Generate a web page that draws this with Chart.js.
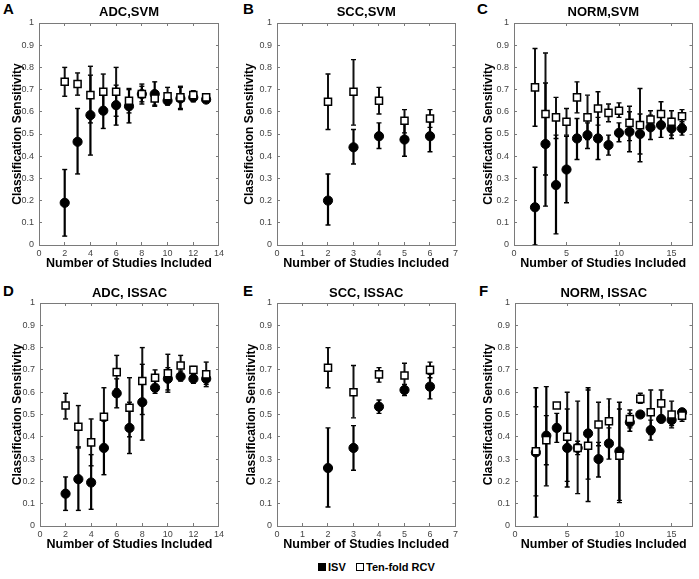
<!DOCTYPE html>
<html><head><meta charset="utf-8">
<script src="https://cdn.jsdelivr.net/npm/chart.js@4.4.0/dist/chart.umd.min.js"></script>
<style>
html,body{margin:0;padding:0;background:#fff;}
body{width:699px;height:579px;position:relative;overflow:hidden;font-family:"Liberation Sans",Arial,sans-serif;}
.panel{position:absolute;}
.letter{position:absolute;font-weight:bold;font-size:15px;line-height:15px;color:#000;}
.lt{position:absolute;font-weight:bold;font-size:11px;line-height:12px;color:#000;white-space:nowrap;}
.sw{position:absolute;box-sizing:border-box;}
</style></head>
<body>
<div class="letter" style="left:3px;top:1px">A</div>
<div class="letter" style="left:243px;top:1px">B</div>
<div class="letter" style="left:477px;top:1px">C</div>
<div class="letter" style="left:3px;top:283px">D</div>
<div class="letter" style="left:243px;top:283px">E</div>
<div class="letter" style="left:479px;top:283px">F</div>
<div class="sw" style="left:318px;top:563px;width:8px;height:8px;background:#000"></div>
<div class="lt" style="left:328px;top:561px">ISV</div>
<div class="sw" style="left:356px;top:563px;width:8px;height:8px;border:1px solid #000;background:#fff"></div>
<div class="lt" style="left:366px;top:561px">Ten-fold RCV</div>
<script>
const seriesNames = ['ISV', 'Ten-fold RCV'];
const yTickLabels = ['0','0.1','0.2','0.3','0.4','0.5','0.6','0.7','0.8','0.9','1'];
const xAxisTitle = 'Number of Studies Included';
const yAxisTitle = 'Classification Sensitivity';

// A: ADC,SVM
const aStudies = [2,3,4,5,6,7,8,9,10,11,12,13];
const aIsvMean = [0.19,0.465,0.585,0.605,0.63,0.625,0.68,0.68,0.65,0.66,0.665,0.655];
const aIsvLow  = [0.04,0.32,0.405,0.525,0.54,0.55,0.645,0.625,0.635,0.61,0.645,0.645];
const aIsvHigh = [0.34,0.615,0.765,0.685,0.72,0.70,0.715,0.735,0.665,0.71,0.69,0.665];
const aRcvMean = [0.735,0.725,0.675,0.69,0.69,0.65,0.68,0.66,0.67,0.665,0.675,0.665];
const aRcvLow  = [0.67,0.675,0.55,0.61,0.58,0.595,0.635,0.63,0.63,0.615,0.65,0.65];
const aRcvHigh = [0.80,0.775,0.805,0.77,0.80,0.705,0.725,0.69,0.71,0.715,0.695,0.68];

// B: SCC,SVM
const bStudies = [2,3,4,5,6];
const bIsvMean = [0.20,0.44,0.49,0.475,0.49];
const bIsvLow  = [0.09,0.365,0.435,0.40,0.42];
const bIsvHigh = [0.32,0.52,0.55,0.55,0.555];
const bRcvMean = [0.645,0.69,0.65,0.56,0.57];
const bRcvLow  = [0.52,0.54,0.59,0.505,0.53];
const bRcvHigh = [0.77,0.835,0.71,0.61,0.61];

// C: NORM,SVM
const cStudies = [2,3,4,5,6,7,8,9,10,11,12,13,14,15,16];
const cIsvMean = [0.17,0.455,0.27,0.34,0.48,0.495,0.48,0.45,0.505,0.51,0.50,0.53,0.54,0.525,0.525];
const cIsvLow  = [0.0,0.175,0.05,0.19,0.385,0.435,0.385,0.405,0.465,0.42,0.41,0.475,0.485,0.48,0.495];
const cIsvHigh = [0.35,0.73,0.495,0.49,0.57,0.55,0.575,0.495,0.55,0.60,0.59,0.585,0.585,0.57,0.555];
const cRcvMean = [0.71,0.59,0.575,0.555,0.665,0.575,0.615,0.595,0.605,0.55,0.54,0.565,0.59,0.555,0.58];
const cRcvLow  = [0.535,0.315,0.48,0.495,0.595,0.475,0.54,0.555,0.575,0.47,0.375,0.53,0.535,0.495,0.545];
const cRcvHigh = [0.885,0.865,0.665,0.615,0.735,0.675,0.69,0.635,0.64,0.625,0.705,0.605,0.645,0.605,0.61];

// D: ADC, ISSAC
const dStudies = [2,3,4,5,6,7,8,9,10,11,12,13];
const dIsvMean = [0.145,0.21,0.195,0.35,0.595,0.44,0.555,0.62,0.66,0.67,0.66,0.66];
const dIsvLow  = [0.07,0.07,0.075,0.23,0.53,0.325,0.385,0.595,0.61,0.65,0.64,0.635];
const dIsvHigh = [0.22,0.355,0.32,0.47,0.66,0.555,0.725,0.65,0.71,0.695,0.68,0.685];
const dRcvMean = [0.54,0.445,0.375,0.49,0.69,0.53,0.65,0.665,0.685,0.72,0.70,0.68];
const dRcvLow  = [0.48,0.35,0.27,0.36,0.615,0.40,0.50,0.63,0.60,0.675,0.685,0.625];
const dRcvHigh = [0.595,0.54,0.48,0.62,0.765,0.665,0.80,0.70,0.77,0.765,0.715,0.735];

// E: SCC, ISSAC
const eStudies = [2,3,4,5,6];
const eIsvMean = [0.26,0.35,0.535,0.61,0.625];
const eIsvLow  = [0.085,0.25,0.505,0.585,0.57];
const eIsvHigh = [0.44,0.45,0.565,0.635,0.68];
const eRcvMean = [0.71,0.60,0.68,0.675,0.70];
const eRcvLow  = [0.62,0.485,0.645,0.62,0.665];
const eRcvHigh = [0.80,0.72,0.71,0.73,0.735];

// F: NORM, ISSAC
const fStudies = [2,3,4,5,6,7,8,9,10,11,12,13,14,15,16];
const fIsvMean = [0.33,0.405,0.44,0.35,0.35,0.415,0.30,0.37,0.335,0.465,0.50,0.43,0.48,0.475,0.51];
const fIsvLow  = [0.04,0.18,0.375,0.175,0.32,0.21,0.22,0.30,0.115,0.425,0.49,0.385,0.47,0.45,0.50];
const fIsvHigh = [0.62,0.625,0.505,0.525,0.38,0.62,0.375,0.44,0.555,0.505,0.51,0.475,0.49,0.50,0.52];
const fRcvMean = [0.335,0.385,0.54,0.40,0.35,0.36,0.455,0.47,0.315,0.48,0.57,0.51,0.55,0.50,0.495];
const fRcvLow  = [0.135,0.275,0.53,0.20,0.145,0.11,0.36,0.37,0.105,0.44,0.55,0.41,0.49,0.44,0.47];
const fRcvHigh = [0.535,0.495,0.55,0.60,0.56,0.61,0.555,0.57,0.525,0.52,0.595,0.61,0.61,0.56,0.52];

const FONT = '"Liberation Sans", Arial, Helvetica, sans-serif';

const panels = [
  {title:'ADC,SVM', xs:aStudies, isv:[aIsvMean,aIsvLow,aIsvHigh], rcv:[aRcvMean,aRcvLow,aRcvHigh], xMax:14, xStep:2,
   box:{left:0,top:0,width:230,height:272}, plot:{left:39,right:219,top:23,bottom:245}, yTitleX:18, titleY:12.5, xTitleY:264},
  {title:'SCC,SVM', xs:bStudies, isv:[bIsvMean,bIsvLow,bIsvHigh], rcv:[bRcvMean,bRcvLow,bRcvHigh], xMax:7, xStep:1,
   box:{left:232,top:0,width:232,height:272}, plot:{left:45,right:226,top:23,bottom:245}, yTitleX:18, titleY:12.5, xTitleY:264},
  {title:'NORM,SVM', xs:cStudies, isv:[cIsvMean,cIsvLow,cIsvHigh], rcv:[cRcvMean,cRcvLow,cRcvHigh], xMax:17, xStep:5,
   box:{left:466,top:0,width:233,height:272}, plot:{left:48,right:230,top:23,bottom:245}, yTitleX:23, titleY:12.5, xTitleY:264},
  {title:'ADC, ISSAC', xs:dStudies, isv:[dIsvMean,dIsvLow,dIsvHigh], rcv:[dRcvMean,dRcvLow,dRcvHigh], xMax:14, xStep:2,
   box:{left:0,top:280,width:230,height:274}, plot:{left:40,right:220,top:23,bottom:246}, yTitleX:18, titleY:13, xTitleY:265},
  {title:'SCC, ISSAC', xs:eStudies, isv:[eIsvMean,eIsvLow,eIsvHigh], rcv:[eRcvMean,eRcvLow,eRcvHigh], xMax:7, xStep:1,
   box:{left:232,top:280,width:232,height:274}, plot:{left:45,right:226,top:23,bottom:246}, yTitleX:19.5, titleY:13, xTitleY:265},
  {title:'NORM, ISSAC', xs:fStudies, isv:[fIsvMean,fIsvLow,fIsvHigh], rcv:[fRcvMean,fRcvLow,fRcvHigh], xMax:17, xStep:5,
   box:{left:466,top:280,width:233,height:274}, plot:{left:49,right:229,top:23,bottom:246}, yTitleX:23, titleY:13, xTitleY:265}
];

function points(xs, ys){ return xs.map((x,i)=>({x:x, y:ys[i]})); }
function whiskers(xs, lo, hi){
  const out=[];
  xs.forEach((x,i)=>{ out.push({x:x,y:lo[i]}); out.push({x:x,y:hi[i]}); out.push({x:x,y:null}); });
  return out;
}
function caps(xs, lo, hi){
  const out=[];
  xs.forEach((x,i)=>{ out.push({x:x,y:lo[i]}); out.push({x:x,y:hi[i]}); });
  return out;
}

const FRAME = '#7a7a7a';
function axisCommon(min, max, step){
  return {
    type:'linear', min:min, max:max,
    grid:{display:true, drawOnChartArea:false, drawTicks:true, tickLength:-3, color:FRAME, lineWidth:1},
    border:{display:true, color:FRAME, width:1},
    ticks:{stepSize:step, includeBounds:false, autoSkip:false, maxRotation:0, color:'#444', font:{family:FONT, size:9}}
  };
}

panels.forEach(p=>{
  const div=document.createElement('div');
  div.className='panel';
  Object.assign(div.style,{left:p.box.left+'px',top:p.box.top+'px',width:p.box.width+'px',height:p.box.height+'px'});
  const cv=document.createElement('canvas');
  cv.width=p.box.width; cv.height=p.box.height;
  cv.style.width=p.box.width+'px'; cv.style.height=p.box.height+'px';
  div.appendChild(cv); document.body.appendChild(div);
  const W=p.box.width, H=p.box.height;
  const tLH=13*1.2, tTop=p.titleY-tLH/2, tBot=p.plot.top-tLH-tTop;
  const xLH=12.5*1.2, xPadB=H-p.xTitleY-xLH/2;
  const yLH=12*1.2, yPadT=p.yTitleX-yLH/2;

  const x=axisCommon(0,p.xMax,p.xStep);
  x.position='bottom';
  x.ticks.padding=6;
  x.title={display:true,text:xAxisTitle,color:'#000',font:{family:FONT,size:12.5,weight:'bold'},padding:{top:0,bottom:xPadB}};
  x.afterFit=s=>{s.height=H-p.plot.bottom;};

  const y=axisCommon(0,1,0.1);
  y.position='left';
  y.ticks.padding=8;
  y.ticks.callback=(v,i)=>yTickLabels[i];
  y.title={display:true,text:yAxisTitle,color:'#000',font:{family:FONT,size:12,weight:'bold'},padding:{top:yPadT,bottom:0}};
  y.afterFit=s=>{s.width=p.plot.left;};

  const x2=axisCommon(0,p.xMax,p.xStep);
  x2.position='top'; x2.ticks.display=false;
  x2.afterFit=s=>{s.height=0;};
  const y2=axisCommon(0,1,0.1);
  y2.position='right'; y2.ticks.display=false;
  y2.afterFit=s=>{s.width=0;};

  new Chart(cv,{
    type:'scatter',
    data:{datasets:[
      {label:seriesNames[1], data:points(p.xs,p.rcv[0]), pointStyle:'rect', radius:5, backgroundColor:'#fff', borderColor:'#000', borderWidth:1.5, order:0},
      {label:seriesNames[0], data:points(p.xs,p.isv[0]), pointStyle:'circle', radius:4.6, backgroundColor:'#000', borderColor:'#000', borderWidth:1, order:1},
      {label:seriesNames[0]+' range', data:whiskers(p.xs,p.isv[1],p.isv[2]), showLine:true, spanGaps:false, borderColor:'#000', borderWidth:2.2, pointRadius:0, order:2},
      {label:seriesNames[1]+' range', data:whiskers(p.xs,p.rcv[1],p.rcv[2]), showLine:true, spanGaps:false, borderColor:'#111', borderWidth:2, pointRadius:0, order:3},
      {label:seriesNames[0]+' caps', data:caps(p.xs,p.isv[1],p.isv[2]), pointStyle:'line', radius:2.5, borderColor:'#000', borderWidth:1.4, order:4},
      {label:seriesNames[1]+' caps', data:caps(p.xs,p.rcv[1],p.rcv[2]), pointStyle:'line', radius:2.5, borderColor:'#000', borderWidth:1.4, order:5}
    ]},
    options:{
      responsive:false, animation:false, devicePixelRatio:1,
      layout:{padding:{left:0,top:0,right:W-p.plot.right,bottom:0}},
      plugins:{
        legend:{display:false}, tooltip:{enabled:false},
        title:{display:true, text:p.title, fullSize:false, color:'#000', font:{family:FONT,size:13,weight:'bold'}, padding:{top:tTop,bottom:tBot}}
      },
      scales:{x:x, y:y, x2:x2, y2:y2}
    }
  });
});
</script>
</body></html>
